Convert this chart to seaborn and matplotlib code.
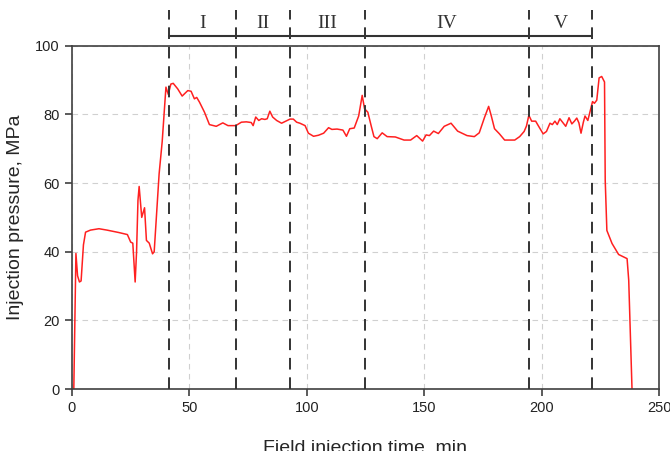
import matplotlib
matplotlib.use("Agg")
import matplotlib.pyplot as plt
import seaborn as sns
import pandas as pd

# Injection time (min) and pressure (MPa)
time_min = [0.9, 1.8, 2.5, 3.3, 4.0, 5.0, 5.9, 8.0, 11.6, 15.0, 20.0, 23.7, 25.1, 26.0,
            27.0, 27.6, 28.2, 28.7, 29.8, 31.0, 31.8, 33.0, 34.4, 35.1, 36.5, 37.2, 38.5,
            40.1, 41.1, 42.2, 43.2, 45.1, 47.0, 49.4, 50.8, 52.2, 53.2, 54.4, 56.5, 58.6,
            61.5, 64.3, 66.5, 69.8, 72.2, 74.3, 76.4, 77.2, 78.3, 79.6, 80.8, 82.2, 83.2,
            84.3, 85.5, 87.2, 89.3, 92.9, 94.3, 95.7, 97.1, 99.3, 100.7, 102.9, 105.0,
            107.2, 109.3, 110.7, 112.9, 115.4, 116.9, 118.3, 120.2, 122.1, 123.6, 124.6,
            126.0, 127.4, 128.6, 130.0, 132.1, 134.2, 137.7, 141.4, 144.2, 146.8, 149.3,
            150.8, 152.2, 154.0, 156.0, 158.5, 161.4, 164.2, 168.2, 171.3, 173.4, 175.6,
            177.4, 178.5, 179.9, 182.0, 184.2, 188.5, 190.6, 192.5, 193.5, 194.5, 195.7,
            197.4, 198.5, 200.6, 202.0, 203.5, 204.5, 205.6, 206.6, 207.7, 209.3, 210.2,
            211.6, 212.8, 213.9, 214.9, 215.8, 216.7, 217.7, 218.4, 219.6, 221.6, 222.4,
            223.4, 224.4, 225.5, 226.7, 227.0, 227.7, 229.9, 232.7, 236.3, 237.0, 238.4]
pressure_mpa = [0.0, 39.5, 33.0, 31.2, 31.5, 42.0, 45.7, 46.3, 46.7, 46.3, 45.6, 45.0, 42.8, 42.5,
                31.2, 40.0, 55.0, 59.0, 50.0, 52.8, 43.3, 42.5, 39.4, 40.0, 55.0, 62.7, 72.0,
                87.9, 85.8, 88.8, 89.0, 87.4, 85.3, 86.9, 86.7, 84.5, 84.9, 83.5, 80.6, 77.0,
                76.5, 77.5, 76.7, 76.7, 77.7, 77.8, 77.6, 76.7, 79.2, 78.2, 78.7, 78.5, 78.7,
                80.9, 79.2, 78.2, 77.4, 78.6, 78.6, 77.7, 77.4, 76.7, 74.5, 73.6, 73.9,
                74.5, 76.1, 75.6, 75.7, 75.4, 73.6, 75.8, 76.0, 79.5, 85.5, 81.6,
                80.6, 76.7, 73.5, 72.9, 74.6, 73.5, 73.4, 72.5, 72.5, 73.8, 72.2,
                74.0, 73.8, 75.1, 74.4, 76.5, 77.4, 75.1, 73.8, 73.5, 74.6, 79.0,
                82.3, 79.6, 75.8, 74.3, 72.5, 72.5, 73.5, 75.0, 76.6, 79.7, 78.0,
                78.0, 76.7, 74.3, 75.0, 77.4, 77.0, 78.0, 77.0, 78.7, 77.3, 76.5,
                79.0, 77.2, 78.0, 78.9, 77.5, 74.5, 77.7, 79.5, 78.2, 83.7, 83.2,
                84.1, 90.6, 91.0, 89.4, 60.8, 46.2, 42.4, 39.2, 38.0, 31.7, 0.0]

# Stage boundaries (min) and stage labels
stage_bounds = [41.3, 69.8, 92.8, 124.8, 194.6, 221.5]
stage_labels = ["I", "II", "III", "IV", "V"]

df = pd.DataFrame({"time": time_min, "pressure": pressure_mpa})

sns.set_style("ticks")
plt.rcParams["font.family"] = ["Liberation Sans", "DejaVu Sans"]

fig, ax = plt.subplots(figsize=(6.7, 4.51), dpi=100)
fig.subplots_adjust(left=0.107, right=0.984, bottom=0.137, top=0.899)

sns.lineplot(data=df, x="time", y="pressure", color="#ff2020", linewidth=1.1,
             estimator=None, sort=False, ax=ax)

ax.set_xlim(0, 250)
ax.set_ylim(0, 100)
ax.set_xticks([0, 50, 100, 150, 200, 250])
ax.set_yticks([0, 20, 40, 60, 80, 100])
ax.grid(True, color="#d0d0d0", linestyle=(0, (5, 4)), linewidth=0.8)
ax.set_axisbelow(True)

for s in ax.spines.values():
    s.set_color("#404040")
    s.set_linewidth(1.2)
ax.tick_params(colors="#404040", labelcolor="#222222", labelsize=10.5, length=5, width=1.2)

ax.set_xlabel("Field injection time, min", fontsize=14, labelpad=18)
ax.set_ylabel("Injection pressure, MPa", fontsize=14, labelpad=8)

# Stage divider lines extending above the axes
for b in stage_bounds:
    ax.plot([b, b], [0, 110.4], color="#333333", linestyle=(0, (6, 4)),
            linewidth=1.4, clip_on=False, zorder=3)
ax.plot([stage_bounds[0], stage_bounds[-1]], [102.8, 102.8], color="#333333",
        linewidth=1.5, clip_on=False)
for i, lab in enumerate(stage_labels):
    mid = (stage_bounds[i] + stage_bounds[i + 1]) / 2
    ax.text(mid, 104.0, lab, ha="center", va="bottom", fontsize=14,
            family=["Liberation Serif", "DejaVu Serif"], color="#333333")

fig.savefig("out.png", dpi=100)
